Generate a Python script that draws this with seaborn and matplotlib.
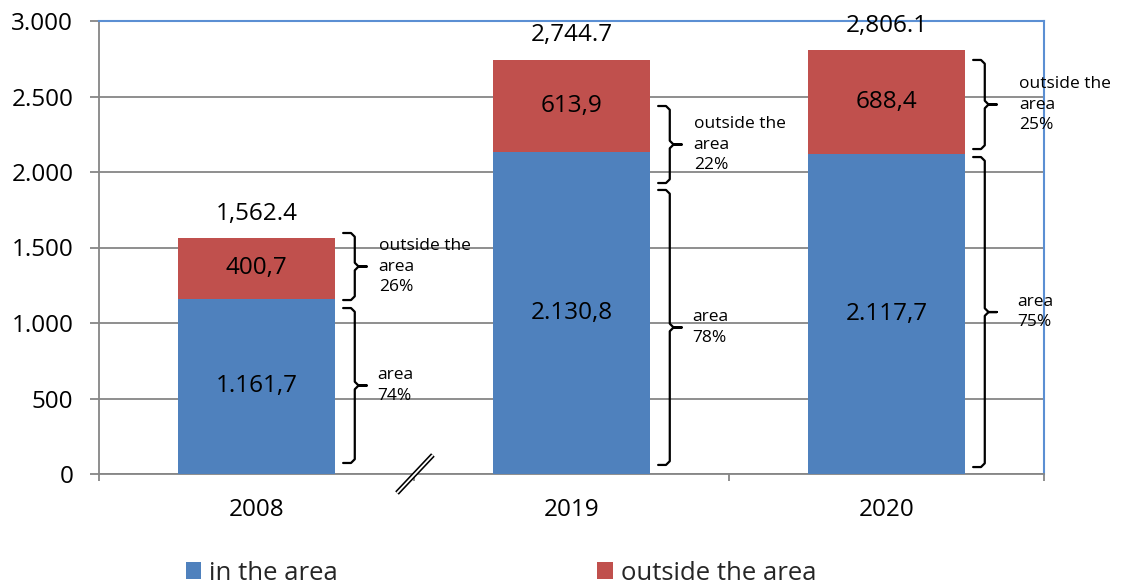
import matplotlib
matplotlib.use('Agg')
import matplotlib.pyplot as plt
import matplotlib.transforms as mtransforms
from matplotlib.patches import Patch
import seaborn as sns
import pandas as pd

# ---- data ----
years = ['2008', '2019', '2020']
in_area = [1161.7, 2130.8, 2117.7]
outside_area = [400.7, 613.9, 688.4]
ytick_values = [0, 500, 1000, 1500, 2000, 2500, 3000]
ytick_labels = ['0', '500', '1.000', '1.500', '2.000', '2.500', '3.000']
legend_labels = ['in the area', 'outside the area']

totals = [round(a + b, 1) for a, b in zip(in_area, outside_area)]
df = pd.DataFrame({'year': years, 'in': in_area, 'out': outside_area, 'total': totals})

# ---- layout for annotation braces (hand-placed in original) ----
OUTSIDE_SPANS = [(1152, 1596), (1927, 2437), (2152, 2742)]
AREA_SPANS = [(73, 1099), (60, 1881), (46, 2099)]
TEXT_DX = [0.038, 0.038, 0.07]

BLUE = '#4F81BD'
RED = '#C0504D'
GRID = '#868686'
FRAME = '#5B8FD3'

sns.set_theme(style='white')
plt.rcParams['font.family'] = ['Open Sans', 'DejaVu Sans']

fig = plt.figure(figsize=(11.23, 5.84), dpi=100)
ax = fig.add_axes([99 / 1123, 1 - 474 / 584, (1044 - 99) / 1123, (474 - 21) / 584])

sns.barplot(data=df, x='year', y='total', color=RED, saturation=1, width=0.5,
            errorbar=None, ax=ax, zorder=3, linewidth=0)
sns.barplot(data=df, x='year', y='in', color=BLUE, saturation=1, width=0.5,
            errorbar=None, ax=ax, zorder=3, linewidth=0)

ax.set_xlim(-0.5, 2.5)
ax.set_ylim(0, 3000)
ax.set_xlabel('')
ax.set_ylabel('')

ax.set_axisbelow(True)
ax.yaxis.grid(True, color=GRID, linewidth=1.3)
ax.xaxis.grid(False)

ax.set_yticks(ytick_values, labels=ytick_labels)
ax.set_xticks(range(len(years)), labels=years)
ax.set_xticks([-0.5, 0.5, 1.5, 2.5], minor=True)
ax.tick_params(axis='y', left=True, length=6.5, width=1.3, color=GRID, pad=12,
               labelsize=17.5, labelcolor='black')
ax.tick_params(axis='x', which='major', bottom=True, length=0, pad=17,
               labelsize=17.5, labelcolor='black')
ax.tick_params(axis='x', which='minor', bottom=True, length=5, width=1.3, color=GRID)

for s in ['left', 'bottom']:
    ax.spines[s].set_color(GRID)
    ax.spines[s].set_linewidth(1.3)
for s in ['top', 'right']:
    ax.spines[s].set_color(FRAME)
    ax.spines[s].set_linewidth(1.5)
    ax.spines[s].set_visible(True)


def fmt_eu(v):
    s = f"{v:,.1f}"
    return s.replace(',', '#').replace('.', ',').replace('#', '.')


def brace(x_edge, y0, y1, lw=1.6):
    xh = x_edge + 0.025
    xv = x_edge + 0.062
    xt = x_edge + 0.1
    ym = (y0 + y1) / 2
    dx = 0.012
    dy = 25
    xs = [xh, xv - dx, xv, xv, xv + dx, xt, xv + dx, xv, xv, xv - dx, xh]
    ys = [y1, y1, y1 - dy, ym + dy, ym, ym, ym, ym - dy, y0 + dy, y0, y0]
    ax.plot(xs, ys, color='black', lw=lw, clip_on=False, zorder=4,
            solid_joinstyle='round')
    return xt, ym


for i in range(len(years)):
    a, b, t = in_area[i], outside_area[i], totals[i]
    ax.text(i, a / 2, fmt_eu(a), ha='center', va='center', fontsize=17.5, color='black', zorder=5)
    ax.text(i, a + b / 2, fmt_eu(b), ha='center', va='center', fontsize=17.5, color='black', zorder=5)
    ax.text(i, t + 160, f"{t:,.1f}", ha='center', va='center', fontsize=17.5, color='black',
            zorder=5, clip_on=False)

    edge = i + 0.25
    xt, ym = brace(edge, *OUTSIDE_SPANS[i])
    pct_out = round(b / t * 100)
    ax.text(xt + TEXT_DX[i], ym, f"outside the\narea\n{pct_out}%", ha='left', va='center',
            fontsize=12.5, linespacing=1.4, color='black', zorder=5, clip_on=False)
    xt, ym = brace(edge, *AREA_SPANS[i])
    pct_in = round(a / t * 100)
    ax.text(xt + TEXT_DX[i] - 0.005, ym, f"area\n{pct_in}%", ha='left', va='center',
            fontsize=12.5, linespacing=1.4, color='black', zorder=5, clip_on=False)

# axis break mark between 2008 and 2019
trans = mtransforms.blended_transform_factory(ax.transData, ax.transAxes)
ax.plot([0.446, 0.560], [-0.042, 0.042], transform=trans, color='black', lw=3.6,
        clip_on=False, solid_capstyle='butt', zorder=6)
ax.plot([0.446, 0.560], [-0.042, 0.042], transform=trans, color='white', lw=1.3,
        clip_on=False, solid_capstyle='butt', zorder=7)

handles = [Patch(facecolor=BLUE, edgecolor='none'), Patch(facecolor=RED, edgecolor='none')]
fig.legend(handles, legend_labels, loc='center left',
           bbox_to_anchor=(186 / 1123, 1 - 573 / 584), ncol=2, frameon=False,
           handlelength=0.6, handleheight=0.6, handletextpad=0.3,
           columnspacing=10.1, borderaxespad=0, borderpad=0, fontsize=18.5)

fig.savefig('out.png', dpi=100)
